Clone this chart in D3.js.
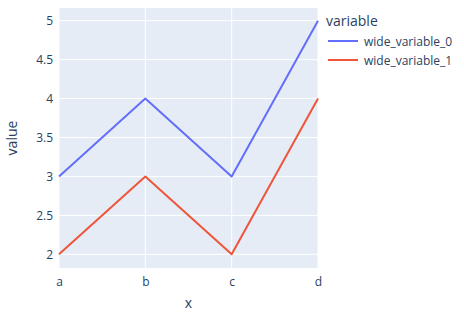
<!DOCTYPE html>
<html><head><meta charset="utf-8">
<script src="https://cdn.jsdelivr.net/npm/d3@7"></script>
<style>body{margin:0;background:#fff}text{font-family:"Open Sans",sans-serif}</style>
</head><body>
<script>
const categories = ["a","b","c","d"];
const seriesNames = ["wide_variable_0","wide_variable_1"];
const series0 = [3,4,3,5];
const series1 = [2,3,2,4];
const yTicks = [2,2.5,3,3.5,4,4.5,5];
const colors = ["#636efa","#EF553B"];

const W=464,H=314, L=59, R=318, T=8, B=268;
const svg=d3.select("body").append("svg").attr("width",W).attr("height",H);
svg.append("rect").attr("x",L).attr("y",T).attr("width",R-L).attr("height",B-T).attr("fill","#E5ECF6");
const x=d3.scalePoint().domain(categories).range([L,R]);
const y=d3.scaleLinear().domain([1.824,5.163]).range([B,T]);
const g=svg.append("g");
g.selectAll(".gy").data(yTicks).join("line").attr("x1",L).attr("x2",R).attr("y1",d=>y(d)).attr("y2",d=>y(d)).attr("stroke","#fff").attr("stroke-width",1);
g.selectAll(".gx").data(categories).join("line").attr("y1",T).attr("y2",B).attr("x1",d=>x(d)).attr("x2",d=>x(d)).attr("stroke","#fff").attr("stroke-width",1);
const fc="#2a3f5f";
svg.append("g").attr("transform",`translate(${L},0)`).call(d3.axisLeft(y).tickValues(yTicks).tickSize(0).tickPadding(6).tickFormat(d3.format("~g")))
 .call(a=>a.select(".domain").remove()).selectAll("text").attr("fill",fc).style("font-size","12px").style("font-family","Open Sans");
svg.append("g").attr("transform",`translate(0,${B})`).call(d3.axisBottom(x).tickSize(0).tickPadding(9))
 .call(a=>a.select(".domain").remove()).selectAll("text").attr("fill",fc).style("font-size","12px").style("font-family","Open Sans");
const data=[series0,series1];
const line=d3.line().x((d,i)=>x(categories[i])).y(d=>y(d));
data.forEach((s,k)=>{
 svg.append("path").datum(s).attr("d",line).attr("fill","none").attr("stroke",colors[k]).attr("stroke-width",2).attr("stroke-linejoin","round");
});
svg.append("text").attr("x",(L+R)/2).attr("y",308).attr("text-anchor","middle").attr("fill",fc).style("font-size","14px").text("x");
svg.append("text").attr("transform",`translate(17,${(T+B)/2}) rotate(-90)`).attr("text-anchor","middle").attr("fill",fc).style("font-size","14px").text("value");
svg.append("text").attr("x",326).attr("y",26).attr("fill",fc).style("font-size","14px").text("variable");
seriesNames.forEach((n,k)=>{
 const yy=41+k*19;
 svg.append("line").attr("x1",328).attr("x2",358).attr("y1",yy).attr("y2",yy).attr("stroke",colors[k]).attr("stroke-width",2);
 svg.append("text").attr("x",364).attr("y",yy+4.5).attr("fill",fc).style("font-size","12px").text(n);
});
</script>
</body></html>
